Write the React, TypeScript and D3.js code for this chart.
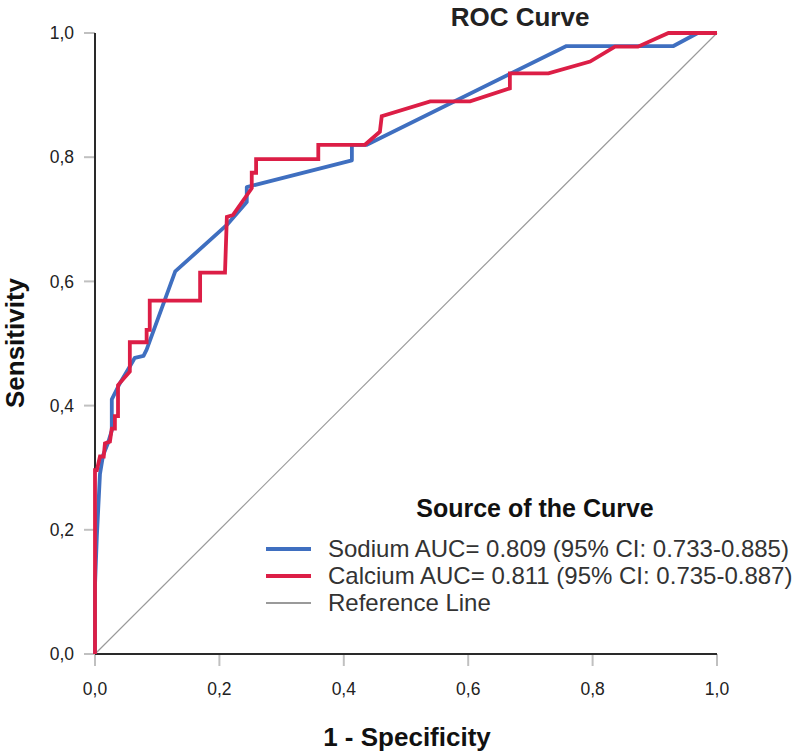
import React from "react";
import * as d3 from "d3";

const tickValues = [0, 0.2, 0.4, 0.6, 0.8, 1.0];
const tickLabels = ["0,0", "0,2", "0,4", "0,6", "0,8", "1,0"];

const sodiumFpr = [0, 0, 0.003, 0.008, 0.013, 0.021, 0.027, 0.027, 0.04, 0.056, 0.064, 0.078, 0.083, 0.129, 0.212, 0.244, 0.244, 0.413, 0.413, 0.437, 0.758, 0.93, 0.969, 1];
const sodiumTpr = [0, 0.11, 0.19, 0.29, 0.32, 0.34, 0.36, 0.41, 0.436, 0.463, 0.477, 0.48, 0.49, 0.616, 0.691, 0.728, 0.752, 0.795, 0.82, 0.82, 0.979, 0.979, 1, 1];

const calciumFpr = [0, 0, 0.003, 0.008, 0.014, 0.016, 0.024, 0.027, 0.032, 0.032, 0.037, 0.037, 0.056, 0.056, 0.083, 0.083, 0.088, 0.088, 0.169, 0.169, 0.209, 0.212, 0.222, 0.252, 0.252, 0.259, 0.259, 0.359, 0.359, 0.434, 0.458, 0.461, 0.539, 0.603, 0.667, 0.667, 0.729, 0.796, 0.836, 0.873, 0.922, 1];
const calciumTpr = [0, 0.296, 0.296, 0.318, 0.318, 0.339, 0.342, 0.363, 0.363, 0.383, 0.383, 0.433, 0.455, 0.502, 0.502, 0.522, 0.522, 0.569, 0.569, 0.614, 0.614, 0.704, 0.707, 0.75, 0.775, 0.775, 0.797, 0.797, 0.82, 0.82, 0.841, 0.866, 0.89, 0.89, 0.911, 0.935, 0.935, 0.954, 0.978, 0.978, 1, 1];

const refFpr = [0, 1];
const refTpr = [0, 1];

const legendLabels = [
  "Sodium AUC= 0.809 (95% CI: 0.733-0.885)",
  "Calcium AUC= 0.811 (95% CI: 0.735-0.887)",
  "Reference Line",
];
const legendColors = ["#3f6fc0", "#dc1e46", "#9a9a9a"];

const FONT = "'Liberation Sans', Arial, sans-serif";

export default function App() {
  const x = d3.scaleLinear().domain([0, 1]).range([95, 717]);
  const y = d3.scaleLinear().domain([0, 1]).range([654, 33]);
  const line = d3
    .line<[number, number]>()
    .x((d) => x(d[0]))
    .y((d) => y(d[1]));
  const zip = (a: number[], b: number[]) => a.map((v, i) => [v, b[i]] as [number, number]);

  return (
    <svg
      width={800}
      height={751}
      style={{ position: "absolute", left: 0, top: 0, background: "#fff" }}
      fontFamily={FONT}
    >
      <rect width={800} height={751} fill="#fff" />
      {/* ticks */}
      {tickValues.map((t, i) => (
        <g key={"y" + i}>
          <line x1={84} x2={95} y1={y(t)} y2={y(t)} stroke="#c0c0c0" strokeWidth={2} />
          <text x={74} y={y(t)} dy="0.35em" textAnchor="end" fontSize={17.5} fill="#222">
            {tickLabels[i]}
          </text>
        </g>
      ))}
      {tickValues.map((t, i) => (
        <g key={"x" + i}>
          <line x1={x(t)} x2={x(t)} y1={654} y2={666} stroke="#c0c0c0" strokeWidth={2} />
          <text x={x(t)} y={695} textAnchor="middle" fontSize={17.5} fill="#222">
            {tickLabels[i]}
          </text>
        </g>
      ))}
      {/* reference line */}
      <path d={line(zip(refFpr, refTpr)) || ""} fill="none" stroke="#9a9a9a" strokeWidth={1.2} />
      {/* axes */}
      <line x1={95} x2={95} y1={33} y2={654} stroke="#2a2a2a" strokeWidth={2} />
      <line x1={95} x2={717} y1={654} y2={654} stroke="#2a2a2a" strokeWidth={2} />
      {/* curves */}
      <path d={line(zip(sodiumFpr, sodiumTpr)) || ""} fill="none" stroke={legendColors[0]} strokeWidth={3.8} strokeLinejoin="round" />
      <path d={line(zip(calciumFpr, calciumTpr)) || ""} fill="none" stroke={legendColors[1]} strokeWidth={3.8} strokeLinejoin="miter" />
      {/* titles */}
      <text x={520} y={26} textAnchor="middle" fontSize={26} fontWeight="bold" fill="#222">
        ROC Curve
      </text>
      <text x={407} y={746} textAnchor="middle" fontSize={26} fontWeight="bold" fill="#111">
        1 - Specificity
      </text>
      <text
        transform="translate(24,343) rotate(-90)"
        textAnchor="middle"
        fontSize={26}
        fontWeight="bold"
        fill="#111"
      >
        Sensitivity
      </text>
      {/* legend */}
      <text x={535} y={517} textAnchor="middle" fontSize={25} fontWeight="bold" fill="#111">
        Source of the Curve
      </text>
      {legendLabels.map((lab, i) => (
        <g key={lab}>
          <line
            x1={266}
            x2={311}
            y1={549 + i * 27}
            y2={549 + i * 27}
            stroke={legendColors[i]}
            strokeWidth={i === 2 ? 2 : 3.8}
          />
          <text x={328} y={549 + i * 27} dy="0.35em" fontSize={24} fill="#333">
            {lab}
          </text>
        </g>
      ))}
    </svg>
  );
}
